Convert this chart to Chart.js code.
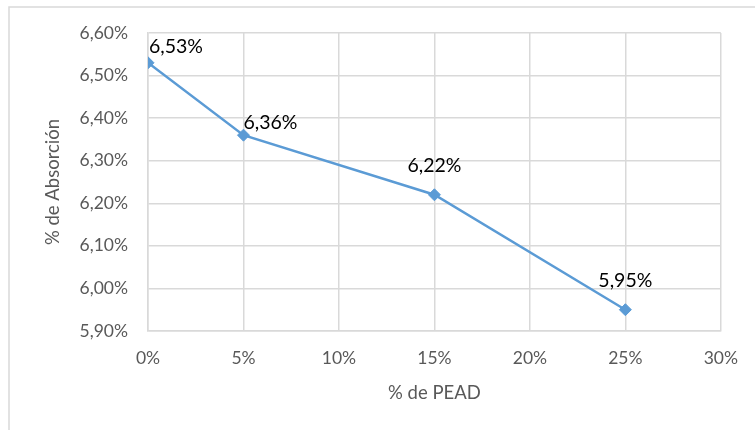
<!DOCTYPE html>
<html>
<head>
<meta charset="utf-8">
<script src="https://cdn.jsdelivr.net/npm/chart.js@4.4.1/dist/chart.umd.min.js"></script>
<style>
  html, body { margin: 0; padding: 0; background: #ffffff; }
  #wrap { width: 755px; height: 430px; position: relative; }
</style>
</head>
<body>
<div id="wrap"><canvas id="c" width="755" height="430"></canvas></div>
<script>
// Porcentaje de PEAD en la mezcla y absorción medida
const pead = [0, 5, 15, 25];
const absorcion = [6.53, 6.36, 6.22, 5.95];
const xTicks = [0, 5, 10, 15, 20, 25, 30];
const yTicks = [5.9, 6.0, 6.1, 6.2, 6.3, 6.4, 6.5, 6.6];

const FONT = "Lato, 'Open Sans', 'Liberation Sans', sans-serif";
const fmtPct = v => v.toFixed(2).replace('.', ',') + '%';

// Outer frame of the chart object (only top and left edges fall inside the canvas)
const framePlugin = {
  id: 'frame',
  beforeDraw(chart) {
    const ctx = chart.ctx;
    ctx.save();
    ctx.strokeStyle = '#d9d9d9';
    ctx.lineWidth = 1.5;
    ctx.beginPath();
    ctx.moveTo(9, chart.height);
    ctx.lineTo(9, 7);
    ctx.lineTo(chart.width, 7);
    ctx.stroke();
    ctx.restore();
  }
};

// Value labels next to each marker
const valueLabels = {
  id: 'valueLabels',
  afterDatasetsDraw(chart, args, opts) {
    const ctx = chart.ctx;
    const meta = chart.getDatasetMeta(0);
    ctx.save();
    ctx.font = opts.size + 'px ' + FONT;
    ctx.fillStyle = opts.color;
    ctx.textBaseline = 'alphabetic';
    meta.data.forEach((pt, i) => {
      const txt = fmtPct(absorcion[i]);
      const place = opts.place[i];
      ctx.textAlign = place.align;
      const capH = opts.size * 0.72;
      ctx.fillText(txt, pt.x + place.dx, pt.y + place.dy + capH / 2);
    });
    ctx.restore();
  }
};

function build() {
  new Chart(document.getElementById('c'), {
    type: 'line',
    data: {
      datasets: [{
        data: pead.map((x, i) => ({ x: x, y: absorcion[i] })),
        borderColor: '#5b9bd5',
        backgroundColor: '#5b9bd5',
        borderWidth: 2.5,
        pointStyle: 'rectRot',
        pointRadius: 6,
        pointBorderWidth: 1,
        tension: 0,
        fill: false
      }]
    },
    options: {
      responsive: false,
      animation: false,
      devicePixelRatio: 1,
      layout: { padding: { top: 33, right: 32, left: 0, bottom: 0 } },
      plugins: {
        legend: { display: false },
        tooltip: { enabled: false },
        valueLabels: {
          size: 19.5,
          color: '#000000',
          place: [
            { align: 'left', dx: 1, dy: -17 },
            { align: 'left', dx: 0, dy: -13 },
            { align: 'center', dx: 0, dy: -30 },
            { align: 'center', dx: 0, dy: -30 }
          ]
        }
      },
      scales: {
        x: {
          type: 'linear',
          min: 0,
          max: 30,
          afterBuildTicks: s => { s.ticks = xTicks.map(v => ({ value: v })); },
          afterFit: s => { s.height = 99; },
          ticks: {
            color: '#595959',
            font: { family: FONT, size: 17.5 },
            padding: 17,
            callback: v => v + '%'
          },
          grid: { color: '#d9d9d9', lineWidth: 1.5, drawTicks: false },
          border: { color: '#d9d9d9', width: 1.5 },
          title: {
            display: true,
            text: '% de PEAD',
            color: '#595959',
            font: { family: FONT, size: 18.5 },
            padding: { top: 0, bottom: 26 }
          }
        },
        y: {
          min: 5.9,
          max: 6.6,
          afterBuildTicks: s => { s.ticks = yTicks.map(v => ({ value: v })); },
          afterFit: s => { s.width = 148; },
          ticks: {
            color: '#595959',
            font: { family: FONT, size: 17.5 },
            padding: 20,
            callback: v => fmtPct(v)
          },
          grid: { color: '#d9d9d9', lineWidth: 1.5, drawTicks: false },
          border: { color: '#d9d9d9', width: 1.5 },
          title: {
            display: true,
            text: '% de Absorción',
            color: '#595959',
            font: { family: FONT, size: 18.5 },
            padding: { top: 42, bottom: 0 }
          }
        }
      }
    },
    plugins: [framePlugin, valueLabels]
  });
}

if (document.fonts && document.fonts.load) {
  Promise.all([
    document.fonts.load("17.5px Lato"),
    document.fonts.load("19.5px Lato")
  ]).then(build, build);
} else {
  build();
}
</script>
</body>
</html>
